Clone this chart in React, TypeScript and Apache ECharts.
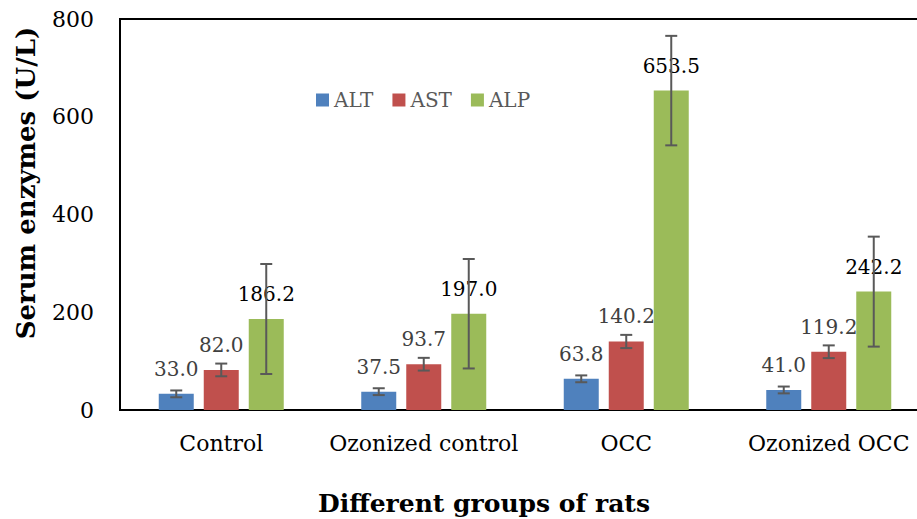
import React, { useEffect, useRef } from "react";
import * as echarts from "echarts";

const categories = ["Control", "Ozonized control", "OCC", "Ozonized OCC"];
const seriesNames = ["ALT", "AST", "ALP"];
const altValues = [33.0, 37.5, 63.8, 41.0];
const astValues = [82.0, 93.7, 140.2, 119.2];
const alpValues = [186.2, 197.0, 653.5, 242.2];
const altErrors = [7, 7, 7, 7];
const astErrors = [13, 13, 13.5, 13];
const alpErrors = [112.5, 112, 112, 112.5];
const yTicks = { min: 0, max: 800, interval: 200 };

const colors = ["#4F81BD", "#C0504D", "#9BBB59"];
const labelColors = ["#404040", "#404040", "#000000"];
const FONT = "DejaVu Serif";
const BAR_W = 35;
const BAR_GAP = 10;

export default function App() {
  const ref = useRef<HTMLDivElement>(null);
  useEffect(() => {
    if (!ref.current) return;
    const chart = echarts.init(ref.current, null, { renderer: "svg" });
    const values = [altValues, astValues, alpValues];
    const errors = [altErrors, astErrors, alpErrors];
    const offsets = [-(BAR_W + BAR_GAP), 0, BAR_W + BAR_GAP];

    const barSeries = seriesNames.map((name, i) => ({
      name,
      type: "bar",
      data: values[i],
      barWidth: BAR_W,
      barGap: (BAR_GAP / BAR_W) * 100 + "%",
      itemStyle: { color: colors[i] },
      label: {
        show: true,
        position: "top",
        distance: 15,
        formatter: (p: any) => p.value.toFixed(1),
        fontFamily: FONT,
        fontSize: 20,
        color: labelColors[i],
      },
      z: 2,
    }));

    const errSeries = seriesNames.map((name, i) => ({
      name: name + "-err",
      type: "custom",
      z: 5,
      data: values[i].map((v, k) => [k, v, errors[i][k]]),
      renderItem: (params: any, api: any) => {
        const xi = api.value(0);
        const v = api.value(1);
        const e = api.value(2);
        const top = api.coord([xi, v + e]);
        const bot = api.coord([xi, v - e]);
        const x = top[0] + offsets[i];
        const cap = 6;
        const style = { stroke: "#595959", lineWidth: 2 };
        return {
          type: "group",
          children: [
            { type: "line", shape: { x1: x, y1: top[1], x2: x, y2: bot[1] }, style },
            { type: "line", shape: { x1: x - cap, y1: top[1], x2: x + cap, y2: top[1] }, style },
            { type: "line", shape: { x1: x - cap, y1: bot[1], x2: x + cap, y2: bot[1] }, style },
          ],
        };
      },
      silent: true,
    }));

    chart.setOption({
      animation: false,
      grid: {
        left: 120,
        top: 19,
        right: 1,
        bottom: 109,
        show: true,
        borderColor: "#000",
        borderWidth: 2,
        containLabel: false,
      },
      legend: {
        data: seriesNames,
        left: 311,
        top: 85,
        icon: "rect",
        itemWidth: 13,
        itemHeight: 13,
        itemGap: 19,
        textStyle: { fontFamily: FONT, fontSize: 20, color: "#595959" },
      },
      xAxis: {
        type: "category",
        data: categories,
        axisLine: { lineStyle: { color: "#000", width: 2 } },
        axisTick: { show: false },
        axisLabel: { fontFamily: FONT, fontSize: 22, color: "#000", margin: 22, interval: 0 },
      },
      yAxis: {
        type: "value",
        min: yTicks.min,
        max: yTicks.max,
        interval: yTicks.interval,
        axisLine: { show: true, lineStyle: { color: "#000", width: 2 } },
        axisTick: { show: false },
        splitLine: { show: false },
        axisLabel: { fontFamily: FONT, fontSize: 22, color: "#000", margin: 26 },
      },
      graphic: [
        {
          type: "text",
          x: 26,
          y: 183,
          rotation: Math.PI / 2,
          style: {
            text: "Serum enzymes (U/L)",
            fontFamily: FONT,
            fontWeight: "bold",
            fontSize: 26,
            fill: "#000",
            align: "center",
            verticalAlign: "middle",
          },
        },
        {
          type: "text",
          x: 484,
          y: 503,
          style: {
            text: "Different groups of rats",
            fontFamily: FONT,
            fontWeight: "bold",
            fontSize: 25,
            fill: "#000",
            align: "center",
            verticalAlign: "middle",
          },
        },
      ],
      series: [...barSeries, ...errSeries],
    });
    return () => chart.dispose();
  }, []);
  return (
    <div style={{ width: 917, height: 519, position: "absolute", left: 0, top: 0, overflow: "hidden" }}>
      <div ref={ref} style={{ width: 931, height: 519 }} />
    </div>
  );
}
